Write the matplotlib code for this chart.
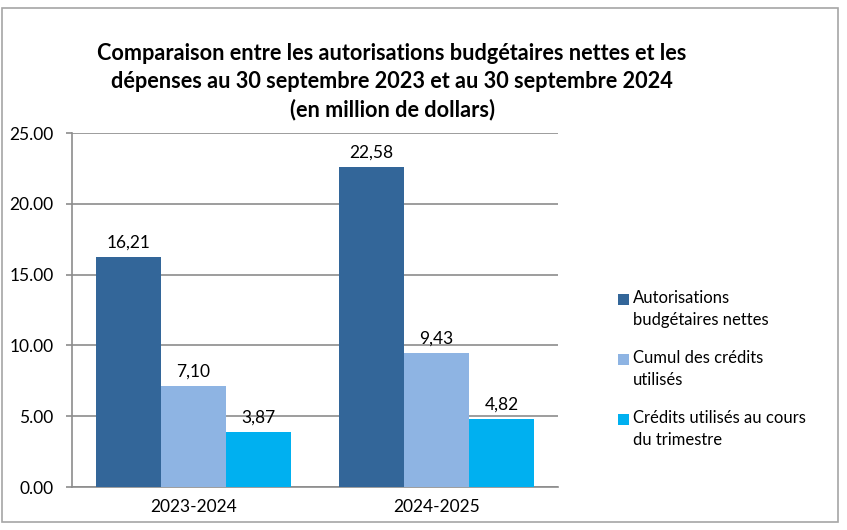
import matplotlib

matplotlib.use("Agg")

import matplotlib.pyplot as plt
import numpy as np
from matplotlib.patches import Rectangle

categories = ["2023-2024", "2024-2025"]
series_names = [
    "Autorisations\nbudgétaires nettes",
    "Cumul des crédits\nutilisés",
    "Crédits utilisés au cours\ndu trimestre",
]
autorisations = [16.21, 22.58]
cumul = [7.10, 9.43]
trimestre = [3.87, 4.82]
y_ticks = [0, 5, 10, 15, 20, 25]

colors = ["#336699", "#8EB4E3", "#00B0F0"]
title = ("Comparaison entre les autorisations budgétaires nettes et les\n"
         "dépenses au 30 septembre 2023 et au 30 septembre 2024\n"
         "(en million de dollars)")

plt.rcParams["font.family"] = ["Lato", "DejaVu Sans"]

W, H = 847, 530
fig = plt.figure(figsize=(W / 100, H / 100), dpi=100)
fig.patches.append(Rectangle((2 / W, 8 / H), 836 / W, 514 / H,
                             transform=fig.transFigure, fill=False,
                             edgecolor="#A6A6A6", linewidth=1.2))

ax = fig.add_axes([72 / W, 43 / H, 486 / W, 354 / H])
x = np.arange(len(categories))
width = 0.267
for i, values in enumerate([autorisations, cumul, trimestre]):
    pos = x + (i - 1) * width
    bars = ax.bar(pos, values, width, color=colors[i], zorder=3)
    for b, v in zip(bars, values):
        ax.text(b.get_x() + b.get_width() / 2, v + 0.45, f"{v:.2f}".replace(".", ","),
                ha="center", va="bottom", fontsize=12.5, zorder=4)

ax.set_xlim(-0.5, 1.5)
ax.set_ylim(0, 25)
ax.set_yticks(y_ticks)
ax.set_yticklabels([f"{t:.2f}" for t in y_ticks], fontsize=12.5)
ax.set_xticks(x)
ax.set_xticklabels(categories, fontsize=12.5)
ax.grid(axis="y", color="#8C8C8C", linewidth=1.2, zorder=0)
for side in ["top", "right"]:
    ax.spines[side].set_visible(False)
for side in ["left", "bottom"]:
    ax.spines[side].set_color("#8C8C8C")
    ax.spines[side].set_linewidth(1.2)
ax.tick_params(axis="y", length=4.3, width=1.2, color="#8C8C8C", pad=9)
ax.tick_params(axis="x", length=0, pad=9)

fig.text(392 / W, 1 - 81.5 / H, title, ha="center", va="center",
         fontsize=15.6, fontweight="bold", linespacing=1.4)

# legend drawn by hand: square aligned with the first text line
for i, name in enumerate(series_names):
    y_line = 299 + 60 * i
    fig.patches.append(Rectangle((618 / W, 1 - (y_line + 6) / H), 11 / W, 11 / H,
                                 transform=fig.transFigure, facecolor=colors[i],
                                 edgecolor="none"))
    fig.text(633 / W, 1 - (y_line - 9) / H, name, ha="left", va="top",
             fontsize=12, linespacing=1.45)

fig.savefig("out.png", dpi=100)
